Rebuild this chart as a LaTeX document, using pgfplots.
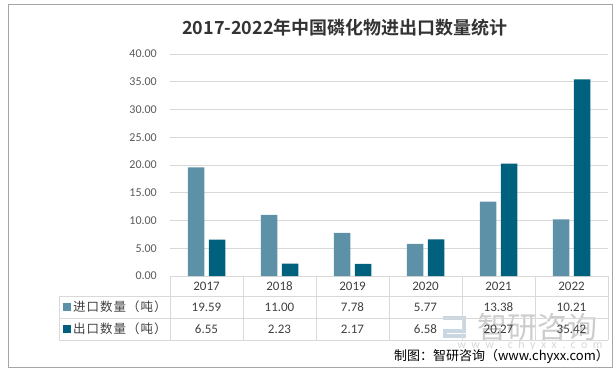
\documentclass[border=0pt]{standalone}
\usepackage{fontspec}
\setmainfont{Carlito}
\newfontfamily\cjk{Noto Sans CJK SC}[BoldFont={Noto Sans CJK SC Bold}]
\usepackage{pgfplots}
\pgfplotsset{compat=1.18}
\usepackage{pgfplotstable}
\definecolor{imp}{HTML}{5D91A8}
\definecolor{exq}{HTML}{00617F}
\definecolor{gridc}{HTML}{D9D9D9}
\definecolor{txt}{HTML}{404040}
\definecolor{tickc}{HTML}{595959}
\definecolor{framec}{HTML}{A6A6A6}
\definecolor{titlec}{HTML}{333333}
\definecolor{logoc}{HTML}{C9D7E2}
\pgfplotstableread{
x imp exp
0 19.59 6.55
1 11.00 2.23
2 7.78 2.17
3 5.77 6.58
4 13.38 20.27
5 10.21 35.42
}\data
\begin{document}
\begin{tikzpicture}
\path[use as bounding box] (0,0) rectangle (616pt,373pt);
\draw[framec, line width=1pt] (8pt,6pt) rectangle (612pt,368pt);
\node[font=\cjk\bfseries\fontsize{18}{20}\selectfont, text=titlec] at (345pt,345pt) {2017-2022年中国磷化物进出口数量统计};
% watermark
\fill[logoc] (443pt,53pt) rectangle (466pt,57pt);
\fill[logoc] (462pt,40pt) rectangle (466pt,57pt);
\fill[logoc] (443pt,40pt) rectangle (466pt,44pt);
\fill[logoc] (443pt,35pt) rectangle (447pt,44pt);
\fill[logoc] (443pt,35pt) rectangle (466pt,39pt);
\node[text=black!20, font=\cjk\fontsize{30}{32}\selectfont] at (537pt,46pt) {智研咨询};
\node[text=black!16, font=\fontsize{12}{12}\selectfont] at (530pt,28pt) {w\ \ w\ \ w\ \ .\ \ c\ \ h\ \ y\ \ x\ \ x\ \ .\ \ c\ \ o\ \ m};
\begin{axis}[
  at={(170pt,97pt)}, anchor=south west, scale only axis,
  width=438pt, height=222pt,
  xmin=-0.5, xmax=5.5, ymin=0, ymax=40,
  ytick={0,5,...,40},
  xtick={0,...,5}, xticklabels={2017,2018,2019,2020,2021,2022},
  axis line style={draw=none},
  major tick length=0pt,
  ymajorgrids, grid style={gridc, line width=0.8pt},
  clip=false,
  /pgf/number format/fixed, /pgf/number format/fixed zerofill,
  /pgf/number format/precision=2, /pgf/number format/assume math mode=true,
  yticklabel style={anchor=east, inner sep=0pt, xshift=-13pt, font=\fontsize{12}{14}\selectfont, text=tickc},
  xticklabel style={anchor=center, inner sep=0pt, yshift=-10pt, font=\fontsize{13}{15}\selectfont, text=txt},
]
\addplot[ybar, bar width=16.5pt, bar shift=-10.5pt, fill=imp, draw=none] table[x=x,y=imp]{\data};
\addplot[ybar, bar width=16.5pt, bar shift=10.5pt, fill=exq, draw=none] table[x=x,y=exp]{\data};
\addplot[draw=none, mark=none, nodes near coords, point meta=explicit,
  nodes near coords style={anchor=center, inner sep=0pt, font=\fontsize{13}{15}\selectfont, text=txt}]
  table[x=x, y expr=-5.586, meta=imp]{\data};
\addplot[draw=none, mark=none, nodes near coords, point meta=explicit,
  nodes near coords style={anchor=center, inner sep=0pt, font=\fontsize{13}{15}\selectfont, text=txt}]
  table[x=x, y expr=-9.55, meta=exp]{\data};
\end{axis}
% table lines
\foreach \xx in {170,243,316,389,462,535,608} {\draw[gridc, line width=0.8pt] (\xx pt,97pt) -- (\xx pt,33pt);}
\foreach \yy in {77,55,33} {\draw[gridc, line width=0.8pt] (59pt,\yy pt) -- (608pt,\yy pt);}
\draw[gridc, line width=0.8pt] (59pt,77pt) -- (59pt,33pt);
% legend keys
\fill[imp] (63pt,62.5pt) rectangle (70.5pt,70pt);
\fill[exq] (63pt,40.5pt) rectangle (70.5pt,48pt);
\node[anchor=west, inner sep=0pt, font=\cjk\fontsize{12.5}{14}\selectfont\addfontfeature{LetterSpace=8}, text=txt] at (73pt,66pt) {进口数量（吨）};
\node[anchor=west, inner sep=0pt, font=\cjk\fontsize{12.5}{14}\selectfont\addfontfeature{LetterSpace=8}, text=txt] at (73pt,44pt) {出口数量（吨）};
% source
\node[anchor=east, inner sep=0pt, font=\cjk\fontsize{13}{15}\selectfont, text=black] at (609pt,17pt) {制图：智研咨询（www.chyxx.com）};
\end{tikzpicture}
\end{document}
